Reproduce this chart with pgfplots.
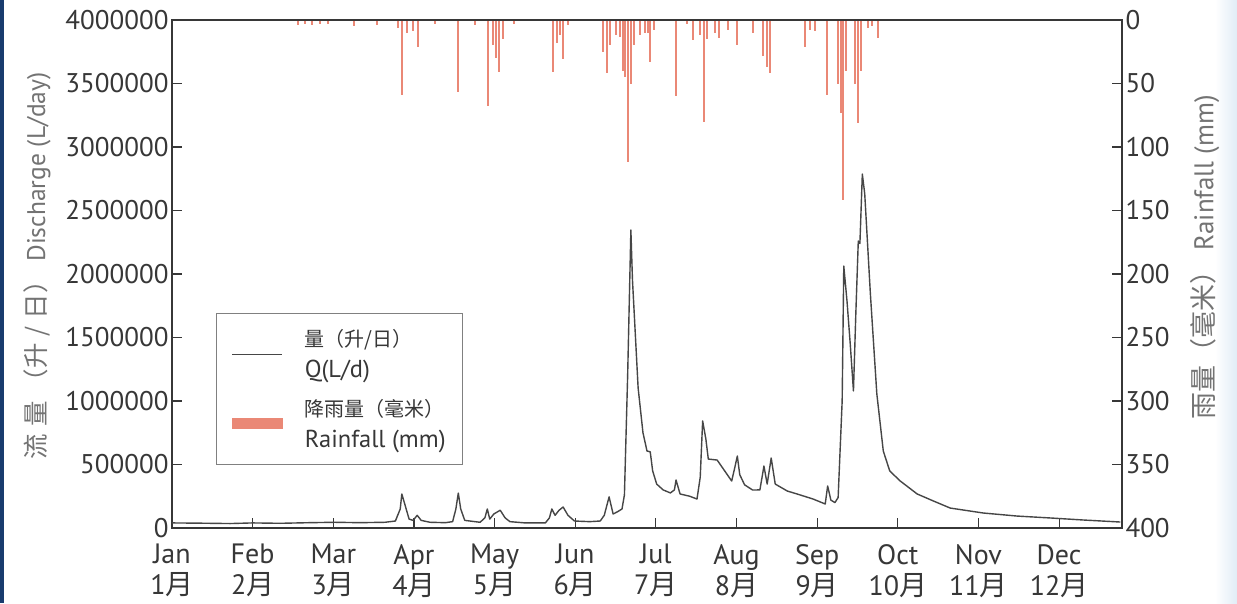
\documentclass[border=0pt]{standalone}
\usepackage{fontspec}
\setmainfont{PT Sans}
\newfontfamily\cjk{Noto Sans CJK SC}
\usepackage{pgfplots}
\pgfplotsset{compat=1.18}
\definecolor{rain}{RGB}{234,136,118}
\definecolor{qline}{RGB}{70,70,70}
\definecolor{axcol}{RGB}{55,55,55}
\definecolor{labcol}{RGB}{115,115,115}
\definecolor{navyedge}{RGB}{25,60,110}
\definecolor{paleblue}{RGB}{225,236,246}
\newcommand\g{\hspace{7pt}}
\begin{document}
\begin{tikzpicture}
\useasboundingbox (0,0) rectangle (1237pt,603pt);
\fill[white] (0,0) rectangle (1237pt,603pt);
\fill[navyedge] (0,0) rectangle (4pt,603pt);
\shade[left color=white, right color=paleblue] (1215pt,0) rectangle (1237pt,603pt);

% Rainfall axis (right, reversed)
\begin{axis}[
  at={(172pt,75pt)}, anchor=south west, scale only axis,
  width=950pt, height=508pt,
  xmin=0, xmax=11.78, ymin=0, ymax=400, y dir=reverse,
  axis x line=none, axis y line*=right,
  axis line style={axcol, line width=1.8pt},
  ytick={0,50,...,400}, tick align=inside, major tick length=10pt,
  tick style={axcol, line width=1.2pt},
  /pgf/number format/assume math mode=true,
  yticklabel style={font=\fontsize{27}{30}\selectfont, text=axcol, inner ysep=1pt},
  ylabel={{\cjk 雨量（毫米）} Rainfall (mm)},
  ylabel style={at={(axis description cs:1.087,0.533)}, anchor=center, font=\fontsize{27}{30}\selectfont, text=labcol},
]
\addplot[ycomb, draw=rain, line width=2.6pt] coordinates {
(1.562,4)(1.649,3)(1.736,4)(1.835,3)(1.935,3)(2.257,5)(2.542,4)(2.803,6)(2.852,59)(2.914,10)
(2.989,9)(3.051,21)(3.261,3)(3.547,57)(3.757,4)(3.919,68)(3.981,20)(4.018,30)(4.055,41)(4.105,15)
(4.241,3)(4.725,41)(4.774,18)(4.812,12)(4.849,31)(4.911,4)(5.345,25)(5.394,42)(5.432,20)(5.506,12)
(5.556,13)(5.593,40)(5.618,45)(5.655,112)(5.692,50)(5.729,20)(5.804,12)(5.866,10)(5.903,10)(5.928,33)
(5.977,8)(6.250,60)(6.386,3)(6.461,16)(6.548,12)(6.597,80)(6.634,15)(6.734,10)(6.783,14)(6.895,8)
(7.006,20)(7.205,10)(7.329,28)(7.378,37)(7.416,42)(7.850,21)(7.912,8)(7.974,9)(8.123,59)(8.259,50)
(8.296,73)(8.321,142)(8.358,40)(8.470,50)(8.507,81)(8.544,40)(8.631,6)(8.681,5)(8.755,14)
};
\end{axis}

% Discharge axis (left)
\begin{axis}[
  at={(172pt,75pt)}, anchor=south west, scale only axis,
  width=950pt, height=508pt,
  xmin=0, xmax=11.78, ymin=0, ymax=4000000,
  axis line style={axcol, line width=1.8pt},
  xtick={0,...,11},
  xticklabels={{Jan\\1{\cjk 月}},{Feb\\2{\cjk 月}},{Mar\\3{\cjk 月}},{Apr\\4{\cjk 月}},{May\\5{\cjk 月}},{Jun\\6{\cjk 月}},{Jul\\7{\cjk 月}},{Aug\\8{\cjk 月}},{Sep\\9{\cjk 月}},{Oct\\10{\cjk 月}},{Nov\\11{\cjk 月}},{Dec\\12{\cjk 月}}},
  xticklabel style={align=center, font=\fontsize{28}{31}\selectfont, text=axcol, inner sep=1pt, yshift=-15pt},
  xtick pos=bottom, ytick pos=left,
  ytick={0,500000,1000000,1500000,2000000,2500000,3000000,3500000,4000000},
  scaled y ticks=false,
  /pgf/number format/assume math mode=true,
  yticklabel style={/pgf/number format/fixed, /pgf/number format/1000 sep={}, font=\fontsize{27}{30}\selectfont, text=axcol, inner ysep=1pt},
  tick align=inside, major tick length=10pt,
  tick style={axcol, line width=1.2pt},
  ylabel={{\cjk 流\g 量\g（升\g/\g 日）} Discharge (L/day)},
  ylabel style={at={(axis description cs:-0.142,0.516)}, anchor=center, font=\fontsize{25.5}{30}\selectfont, text=labcol},
  legend cell align=left,
  legend style={at={(axis description cs:0.0463,0.4232)}, anchor=north west,
    draw=gray, line width=1pt, font=\fontsize{24.5}{31}\selectfont, text=axcol,
    cells={align=left}, inner xsep=15pt, inner ysep=14pt, row sep=16pt,
    /tikz/every odd column/.append style={column sep=20pt}},
]
\addplot[draw=qline, line width=1.4pt, line join=round,
  legend image code/.code={\draw[qline, line width=1.4pt] (0pt,0pt) -- (50pt,0pt);}] coordinates {
(0.00,40000)(0.35,38000)(0.72,35000)(1.00,40000)(1.34,37000)(1.71,42000)(2.02,45000)(2.33,42000)(2.64,45000)(2.77,55000)
(2.83,150000)(2.85,268000)(2.89,180000)(2.94,70000)(2.99,60000)(3.04,100000)(3.09,60000)(3.20,45000)(3.39,42000)(3.48,50000)
(3.52,150000)(3.55,275000)(3.58,150000)(3.63,60000)(3.82,45000)(3.88,80000)(3.91,150000)(3.94,70000)(3.99,110000)(4.07,140000)
(4.13,80000)(4.19,50000)(4.38,40000)(4.63,40000)(4.68,80000)(4.71,150000)(4.75,100000)(4.80,140000)(4.85,165000)(4.91,100000)
(4.99,55000)(5.18,50000)(5.31,55000)(5.36,100000)(5.42,245000)(5.47,110000)(5.53,130000)(5.58,150000)(5.61,260000)(5.65,1200000)
(5.69,2346000)(5.71,1950000)(5.73,1709000)(5.78,1102000)(5.84,750000)(5.89,606000)(5.93,600000)(5.96,450000)(6.01,346000)(6.09,300000)
(6.18,276000)(6.23,300000)(6.25,378000)(6.30,268000)(6.42,250000)(6.51,228000)(6.55,400000)(6.58,843000)(6.62,700000)(6.65,543000)
(6.76,535000)(6.82,480000)(6.88,425000)(6.94,370000)(6.98,480000)(7.01,567000)(7.04,420000)(7.10,340000)(7.20,299000)(7.29,300000)
(7.34,488000)(7.38,346000)(7.43,551000)(7.48,346000)(7.63,291000)(7.75,268000)(7.95,228000)(8.10,189000)(8.13,331000)(8.17,220000)
(8.22,200000)(8.26,240000)(8.31,1000000)(8.33,2063000)(8.37,1787000)(8.41,1450000)(8.45,1079000)(8.48,1700000)(8.51,2260000)(8.53,2240000)
(8.56,2787000)(8.59,2630000)(8.66,1842000)(8.74,1055000)(8.82,606000)(8.90,449000)(9.03,370000)(9.24,268000)(9.44,213000)(9.65,157000)
(10.06,118000)(10.48,94000)(10.89,79000)(11.30,63000)(11.76,47000)
};
\addlegendentry{{\cjk\fontsize{20}{31}\selectfont 量（升/日）}\\Q(L/d)}
\addlegendimage{legend image code/.code={\fill[rain] (0pt,-5pt) rectangle (50pt,5pt);}}
\addlegendentry{{\cjk\fontsize{20}{31}\selectfont 降雨量（毫米）}\\Rainfall (mm)}
\end{axis}
\end{tikzpicture}
\end{document}
